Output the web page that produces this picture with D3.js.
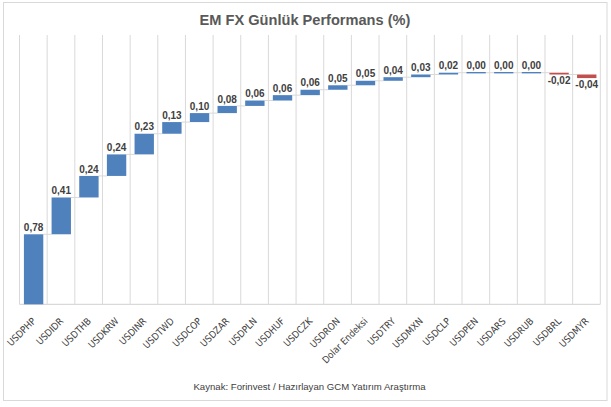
<!DOCTYPE html>
<html>
<head>
<meta charset="utf-8">
<script src="https://cdn.jsdelivr.net/npm/d3@7"></script>
<style>
  html, body { margin: 0; padding: 0; background: #fff; }
  svg { display: block; }
</style>
</head>
<body>
<script>
const categories = ["USDPHP","USDIDR","USDTHB","USDKRW","USDINR","USDTWD","USDCOP","USDZAR","USDPLN","USDHUF","USDCZK","USDRON","Dolar Endeksi","USDTRY","USDMXN","USDCLP","USDPEN","USDARS","USDRUB","USDBRL","USDMYR"];
const values = [0.78,0.41,0.24,0.24,0.23,0.13,0.10,0.08,0.06,0.06,0.06,0.05,0.05,0.04,0.03,0.02,0.00,0.00,0.00,-0.02,-0.04];
const yDomain = [0, 3];
const title = "EM FX Günlük Performans (%)";
const source = "Kaynak: Forinvest / Hazırlayan GCM Yatırım Araştırma";

const W = 611, H = 407;
const plot = { left: 19.5, right: 600.3, top: 35, bottom: 304.3 };
const colPos = "#4f81bd", colNeg = "#c0504d", gridCol = "#d9d9d9";

const svg = d3.select("body").append("svg").attr("width", W).attr("height", H);

// chart border
svg.append("rect").attr("x", 3.5).attr("y", 2.5).attr("width", 603.5).attr("height", 398)
  .attr("fill", "#fff").attr("stroke", gridCol).attr("stroke-width", 1);

svg.append("text").attr("x", 305).attr("y", 25).attr("text-anchor", "middle")
  .attr("font-family", "'Liberation Sans', Arial, sans-serif").attr("font-weight", "bold")
  .attr("font-size", 14.6).attr("fill", "#595959").text(title);

const x = d3.scaleBand().domain(categories).range([plot.left, plot.right]).padding(0);
const y = d3.scaleLinear().domain(yDomain).range([plot.bottom, plot.top]);
const step = x.step();

// cumulative
let cum = 0;
const data = categories.map((c, i) => {
  const start = cum; cum += values[i];
  return { c, v: values[i], start, end: cum };
});

// vertical gridlines
const gx = categories.map(c => x(c)).concat([plot.right]);
svg.append("g").selectAll("line").data(gx).join("line")
  .attr("x1", d => d).attr("x2", d => d).attr("y1", plot.top).attr("y2", plot.bottom)
  .attr("stroke", gridCol).attr("stroke-width", 1);

// baseline
svg.append("line").attr("x1", plot.left).attr("x2", plot.right)
  .attr("y1", plot.bottom).attr("y2", plot.bottom).attr("stroke", gridCol).attr("stroke-width", 1.2);

const bw = step * 0.70, boff = step * 0.16;

// connectors
svg.append("g").selectAll("line").data(data.slice(0, -1)).join("line")
  .attr("x1", d => x(d.c) + boff + bw).attr("x2", (d, i) => x(categories[i + 1]) + boff)
  .attr("y1", d => y(d.end)).attr("y2", d => y(d.end))
  .attr("stroke", gridCol).attr("stroke-width", 1);

// bars
svg.append("g").selectAll("rect").data(data).join("rect")
  .attr("x", d => x(d.c) + boff).attr("width", bw)
  .attr("y", d => Math.min(y(d.start), y(d.end)) - (Math.abs(y(d.start) - y(d.end)) < 1.4 ? 0.7 : 0))
  .attr("height", d => Math.max(1.4, Math.abs(y(d.start) - y(d.end))))
  .attr("fill", d => d.v < 0 ? colNeg : colPos);

// value labels
const fmt = v => v.toFixed(2).replace(".", ",");
svg.append("g").selectAll("text").data(data).join("text")
  .attr("x", d => x(d.c) + boff + bw / 2)
  .attr("y", d => d.v < 0 ? y(d.end) + 10 : y(d.end) - 3.3)
  .attr("text-anchor", "middle")
  .attr("font-family", "'Liberation Sans', Arial, sans-serif").attr("font-weight", "bold")
  .attr("font-size", 10).attr("fill", "#404040")
  .text(d => fmt(d.v));

// category axis
const ax = svg.append("g").attr("transform", `translate(0,${plot.bottom})`)
  .call(d3.axisBottom(x).tickSize(0).tickPadding(0));
ax.select(".domain").remove();
ax.selectAll("text")
  .attr("font-family", "'Liberation Sans Narrow', 'DejaVu Sans Condensed', Arial, sans-serif")
  .attr("font-size", 9.6).attr("fill", "#404040")
  .attr("dy", 0).attr("y", 0).attr("x", 0)
  .attr("text-anchor", "end")
  .attr("transform", "translate(3,17.5) rotate(-45)");

svg.append("text").attr("x", 309.5).attr("y", 390).attr("text-anchor", "middle")
  .attr("font-family", "'Liberation Sans', Arial, sans-serif")
  .attr("font-size", 9.6).attr("fill", "#404040").text(source);
</script>
</body>
</html>
